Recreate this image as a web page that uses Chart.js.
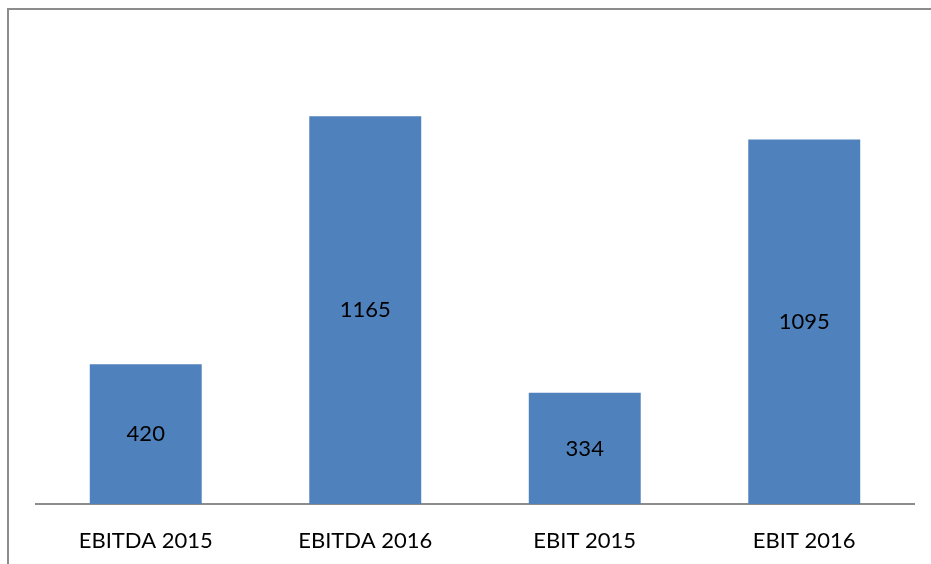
<!DOCTYPE html>
<html>
<head>
<meta charset="utf-8">
<script src="https://cdn.jsdelivr.net/npm/chart.js@4"></script>
<style>
  html, body { margin: 0; padding: 0; background: #fff; }
  #wrap { width: 931px; height: 564px; position: relative; }
</style>
</head>
<body>
<div id="wrap"><canvas id="ebit_chart"></canvas></div>
<script>
  const categories = ["EBITDA 2015", "EBITDA 2016", "EBIT 2015", "EBIT 2016"];
  const values = [420, 1165, 334, 1095];

  // frame like the cropped excel chart border
  const framePlugin = {
    id: "frame",
    beforeDraw(chart) {
      const ctx = chart.ctx;
      ctx.save();
      ctx.strokeStyle = "#8c8c8c";
      ctx.lineWidth = 2;
      ctx.beginPath();
      ctx.moveTo(8, 564);
      ctx.lineTo(8, 9);
      ctx.lineTo(931, 9);
      ctx.stroke();
      ctx.restore();
    },
  };

  // value labels in the middle of each bar
  const valueLabels = {
    id: "valueLabels",
    afterDatasetsDraw(chart) {
      const ctx = chart.ctx;
      const meta = chart.getDatasetMeta(0);
      ctx.save();
      ctx.font = "22px Lato";
      ctx.fillStyle = "#000";
      ctx.textAlign = "center";
      ctx.textBaseline = "middle";
      meta.data.forEach(function (bar, i) {
        ctx.fillText(values[i], bar.x, (bar.y + bar.base) / 2);
      });
      ctx.restore();
    },
  };

  new Chart(document.getElementById("ebit_chart"), {
    type: "bar",
    data: {
      labels: categories,
      datasets: [
        {
          data: values,
          backgroundColor: "#4F81BD",
          borderWidth: 0,
          categoryPercentage: 1,
          barPercentage: 0.51,
        },
      ],
    },
    options: {
      responsive: true,
      maintainAspectRatio: false,
      animation: false,
      layout: {
        padding: { left: 36, right: 17, top: 38, bottom: 0 },
      },
      plugins: {
        legend: { display: false },
        tooltip: { enabled: false },
      },
      scales: {
        x: {
          grid: { display: false },
          border: { color: "#8c8c8c", width: 2 },
          ticks: {
            color: "#000",
            font: { family: "Lato", size: 22 },
            padding: 16,
            maxRotation: 0,
          },
          afterFit(scale) {
            scale.height = 60;
          },
        },
        y: {
          display: false,
          min: 0,
          max: 1400,
        },
      },
    },
    plugins: [framePlugin, valueLabels],
  });
</script>
</body>
</html>
